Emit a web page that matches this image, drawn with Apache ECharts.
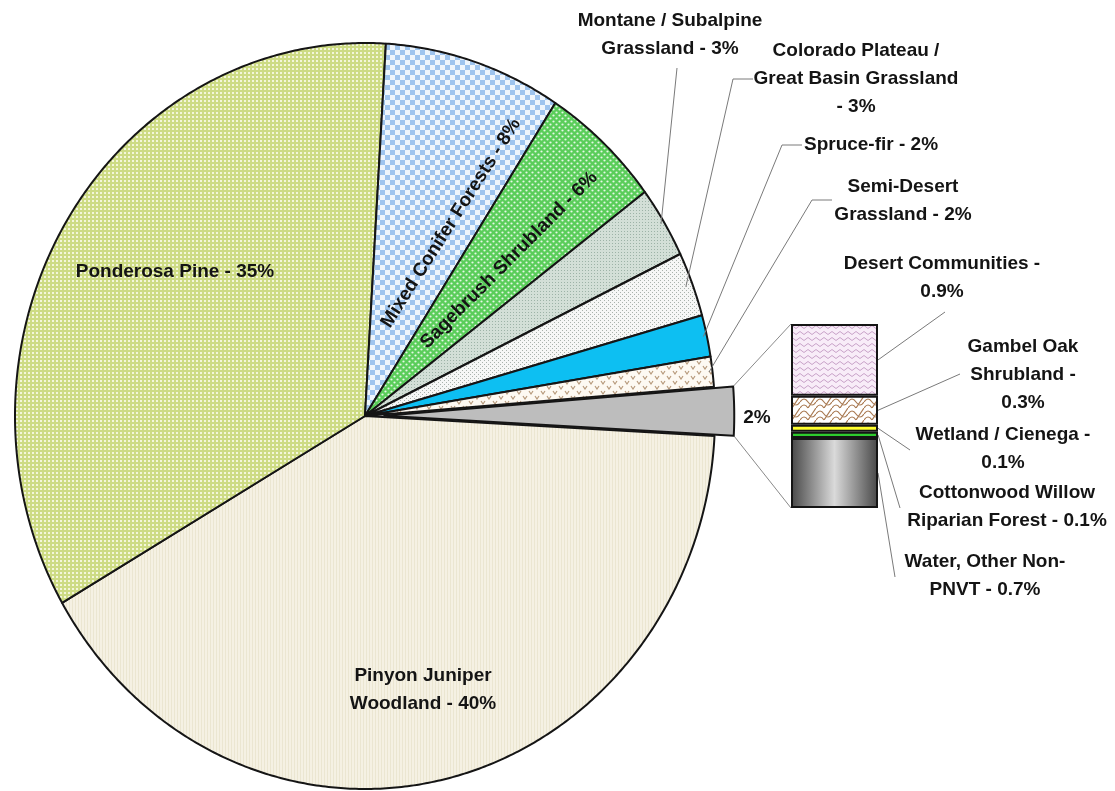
<!DOCTYPE html>
<html><head><meta charset="utf-8">
<script src="https://cdn.jsdelivr.net/npm/echarts@6/dist/echarts.min.js"></script>
<style>html,body{margin:0;padding:0;background:#fff}#c{width:1115px;height:791px}</style>
</head><body><div id="c"></div>
<script>
// ---------------- DATA ----------------
const pieNames = ['Pinyon Juniper Woodland','Ponderosa Pine','Mixed Conifer Forests','Sagebrush Shrubland','Montane / Subalpine Grassland','Colorado Plateau / Great Basin Grassland','Spruce-fir','Semi-Desert Grassland'];
const pieValues = [40.8, 34.3, 8.2, 5.6, 3.1, 2.8, 1.8, 1.3];
const pieLabels = ['Pinyon Juniper\nWoodland - 40%','Ponderosa Pine - 35%','Mixed Conifer Forests - 8%','Sagebrush Shrubland - 6%','Montane / Subalpine\nGrassland - 3%','Colorado Plateau /\nGreat Basin Grassland\n- 3%','Spruce-fir - 2%','Semi-Desert\nGrassland - 2%'];
const otherName = 'Other';
const otherLabel = '2%';
// bar (bottom to top)
const barNames = ['Water, Other Non-PNVT','Cottonwood Willow Riparian Forest','Wetland / Cienega','Gambel Oak Shrubland','Desert Communities'];
const barValues = [0.8, 0.07, 0.08, 0.33, 0.82];
const barLabels = ['Water, Other Non-\nPNVT - 0.7%','Cottonwood Willow\nRiparian Forest - 0.1%','Wetland / Cienega -\n0.1%','Gambel Oak\nShrubland -\n0.3%','Desert Communities -\n0.9%'];

// ---------------- LAYOUT / STYLE ----------------
const START_ANGLE = 4.5;   // degrees, math convention, slices go clockwise
const EXPLODE = 0.055;
const PIE_GRID = {left:15, top:43, width:700, height:746};
const BAR_GRID = {left:791, top:324, width:87, height:184};
const FONT = {fontSize:19, fontWeight:'bold', fontFamily:'Liberation Sans, Arial, sans-serif', fill:'#141414', align:'center', verticalAlign:'middle', lineHeight:28};
// label layout for slices in order [other, ...pie]
const sliceLabelLayout = [
  {x:757, y:418},
  {x:423, y:690},
  {x:175, y:272},
  {x:451, y:223, rot:57.5},
  {x:509, y:260, rot:45},
  {x:670, y:35, r:0.99, leader:[[677,68]]},
  {x:856, y:79, r:0.98, leader:[[733,79],[753,79]]},
  {x:871, y:145, r:0.99, leader:[[782,145],[802,145]]},
  {x:903, y:201, r:0.99, leader:[[812,200],[832,200]]}
];
const barLabelLayout = [
  {x:985, y:576, end:[895,577]},
  {x:1007, y:507, end:[900,508]},
  {x:1003, y:449, end:[910,450]},
  {x:1023, y:375, end:[960,374]},
  {x:942, y:278, end:[945,312]}
];

function pat(w, h, draw){ const c=document.createElement('canvas'); c.width=w; c.height=h; const x=c.getContext('2d'); draw(x); return {image:c, repeat:'repeat'}; }
const fillOther = '#bdbdbd';
const fillPinyon = pat(3,3,x=>{x.fillStyle='#f5f1e3';x.fillRect(0,0,3,3);x.fillStyle='#ebe6d1';x.fillRect(0,0,1,3);});
const fillPonderosa = pat(4,4,x=>{x.fillStyle='#cddb84';x.fillRect(0,0,4,4);x.fillStyle='#f3f6da';x.fillRect(0,0,2,2);});
const fillMixed = pat(10,10,x=>{x.fillStyle='#eef5fc';x.fillRect(0,0,10,10);x.fillStyle='#9ec4ee';x.fillRect(0,0,5,5);x.fillRect(5,5,5,5);});
const fillSage = pat(6,6,x=>{x.fillStyle='#5acd5a';x.fillRect(0,0,6,6);x.fillStyle='#e6f7e6';x.beginPath();x.arc(1.5,1.5,1.1,0,7);x.fill();x.beginPath();x.arc(4.5,4.5,1.1,0,7);x.fill();});
const fillMontane = pat(3,3,x=>{x.fillStyle='#d3dfd7';x.fillRect(0,0,3,3);x.fillStyle='#9db3a7';x.fillRect(0,0,1,1);});
const fillColorado = pat(4,4,x=>{x.fillStyle='#f6f7f6';x.fillRect(0,0,4,4);x.fillStyle='#a9b2ac';x.fillRect(0,0,1,1);x.fillRect(2,2,1,1);});
const fillSpruce = '#0dbff2';
const fillSemi = pat(12,10,x=>{x.fillStyle='#fdf9f2';x.fillRect(0,0,12,10);x.strokeStyle='#b79a7c';x.lineWidth=1.2;x.beginPath();x.moveTo(1,1);x.lineTo(3,4);x.lineTo(5,1);x.moveTo(7,6);x.lineTo(9,9);x.lineTo(11,6);x.stroke();});
const sliceFills = [fillOther, fillPinyon, fillPonderosa, fillMixed, fillSage, fillMontane, fillColorado, fillSpruce, fillSemi];

const fillWater = {type:'linear',x:0,y:0,x2:1,y2:0,colorStops:[{offset:0,color:'#474747'},{offset:0.5,color:'#dadada'},{offset:1,color:'#474747'}]};
const fillCotton = '#2ecc2e';
const fillWetland = '#ffff2e';
const fillGambel = pat(16,12,x=>{x.fillStyle='#ffffff';x.fillRect(0,0,16,12);x.strokeStyle='#a97a52';x.lineWidth=1.2;x.beginPath();x.moveTo(0,6);x.quadraticCurveTo(4,0,8,6);x.quadraticCurveTo(12,12,16,6);x.moveTo(0,0);x.quadraticCurveTo(4,-6,8,0);x.moveTo(8,12);x.quadraticCurveTo(12,6,16,0);x.moveTo(0,12);x.quadraticCurveTo(4,6,8,12);x.stroke();});
const fillDesert = pat(8,6,x=>{x.fillStyle='#f8ecf8';x.fillRect(0,0,8,6);x.strokeStyle='#c8a2c8';x.lineWidth=1;x.beginPath();x.moveTo(0,1.5);x.lineTo(4,4.5);x.lineTo(8,1.5);x.stroke();});
const barFills = [fillWater, fillCotton, fillWetland, fillGambel, fillDesert];

// ---------------- DERIVED ----------------
const barTotal = barValues.reduce((a,b)=>a+b,0);
const slices = [{name:otherName, value:barTotal, label:otherLabel}].concat(pieNames.map((n,i)=>({name:n, value:pieValues[i], label:pieLabels[i]})));
const total = slices.reduce((a,s)=>a+s.value,0);
let acc = 0;
const sliceAngles = slices.map(s=>{ const a0 = START_ANGLE - acc/total*360; acc += s.value; return [a0, START_ANGLE - acc/total*360]; });
const rad = d => d*Math.PI/180;

function renderSlice(params, api){
  const i = params.dataIndex;
  const [a0, a1] = sliceAngles[i];
  const mid = rad((a0+a1)/2);
  const off = i === 0 ? EXPLODE : 0;
  const ox = off*Math.cos(mid), oy = off*Math.sin(mid);
  const pts = [api.coord([ox, oy])];
  const n = Math.max(2, Math.ceil(Math.abs(a0-a1)/0.5));
  for (let k=0;k<=n;k++){ const a = rad(a0+(a1-a0)*k/n); pts.push(api.coord([ox+Math.cos(a), oy+Math.sin(a)])); }
  const children = [{type:'polygon', shape:{points:pts}, style:{fill:sliceFills[i], stroke:'#151515', lineWidth:2, lineJoin:'round'}}];
  const L = sliceLabelLayout[i];
  if (L.leader){
    const e = api.coord([L.r*Math.cos(mid), L.r*Math.sin(mid)]);
    children.push({type:'polyline', z2:50, shape:{points:[e].concat(L.leader)}, style:{stroke:'#7a7a7a', lineWidth:1, fill:null}});
  }
  children.push({type:'text', z2:100, x:L.x, y:L.y, rotation: rad(L.rot||0), style:Object.assign({text:slices[i].label}, FONT)});
  return {type:'group', children};
}

const barCum = []; { let c=0; barValues.forEach(v=>{ barCum.push(c + v/2); c+=v; }); }
function renderBarLabel(params, api){
  const i = params.dataIndex;
  const p = api.coord([0, barCum[i]]);
  const half = api.size([1,0])[0]/2;
  const L = barLabelLayout[i];
  return {type:'group', children:[
    {type:'line', shape:{x1:p[0]+half, y1:p[1], x2:L.end[0], y2:L.end[1]}, style:{stroke:'#7a7a7a', lineWidth:1}},
    {type:'text', x:L.x, y:L.y, style:Object.assign({text:barLabels[i]}, FONT)}
  ]};
}

const chart = echarts.init(document.getElementById('c'), null, {renderer:'canvas'});
const option = {
  animation:false,
  backgroundColor:'#ffffff',
  grid:[Object.assign({}, PIE_GRID), Object.assign({}, BAR_GRID)],
  xAxis:[{type:'value', min:-1, max:1, show:false, gridIndex:0},{type:'category', data:[otherName], show:false, gridIndex:1}],
  yAxis:[{type:'value', min:-1, max:1, show:false, gridIndex:0},{type:'value', min:0, max:barTotal, show:false, gridIndex:1}],
  series:[
    {type:'custom', name:'pie', xAxisIndex:0, yAxisIndex:0, renderItem:renderSlice, clip:false,
     data: slices.map((s,i)=>({name:s.name, value:[0,0,s.value]}))}
  ].concat(barNames.map((n,i)=>({
     type:'bar', name:n, xAxisIndex:1, yAxisIndex:1, stack:'other', barWidth:'100%',
     data:[barValues[i]], itemStyle:{color:barFills[i], borderColor:'#151515', borderWidth:2}
  }))).concat([
    {type:'custom', name:'barLabels', xAxisIndex:1, yAxisIndex:1, renderItem:renderBarLabel, clip:false,
     data: barValues.map((v,i)=>({name:barNames[i], value:[0, barCum[i]]}))}
  ])
};
chart.setOption(option);

// connector lines between exploded slice and bar
(function(){
  const [a0, a1] = sliceAngles[0];
  const mid = rad((a0+a1)/2);
  const ox = EXPLODE*Math.cos(mid), oy = EXPLODE*Math.sin(mid);
  const sTop = chart.convertToPixel({gridIndex:0}, [ox+Math.cos(rad(a0)), oy+Math.sin(rad(a0))]);
  const sBot = chart.convertToPixel({gridIndex:0}, [ox+Math.cos(rad(a1)), oy+Math.sin(rad(a1))]);
  const bTop = chart.convertToPixel({gridIndex:1}, [0, barTotal]);
  const bBot = chart.convertToPixel({gridIndex:1}, [0, 0]);
  const left = BAR_GRID.left;
  chart.setOption({graphic:[
    {type:'line', shape:{x1:sTop[0], y1:sTop[1], x2:left, y2:bTop[1]}, style:{stroke:'#8a8a8a', lineWidth:1}},
    {type:'line', shape:{x1:sBot[0], y1:sBot[1], x2:left, y2:bBot[1]}, style:{stroke:'#8a8a8a', lineWidth:1}}
  ]});
})();
</script></body></html>
